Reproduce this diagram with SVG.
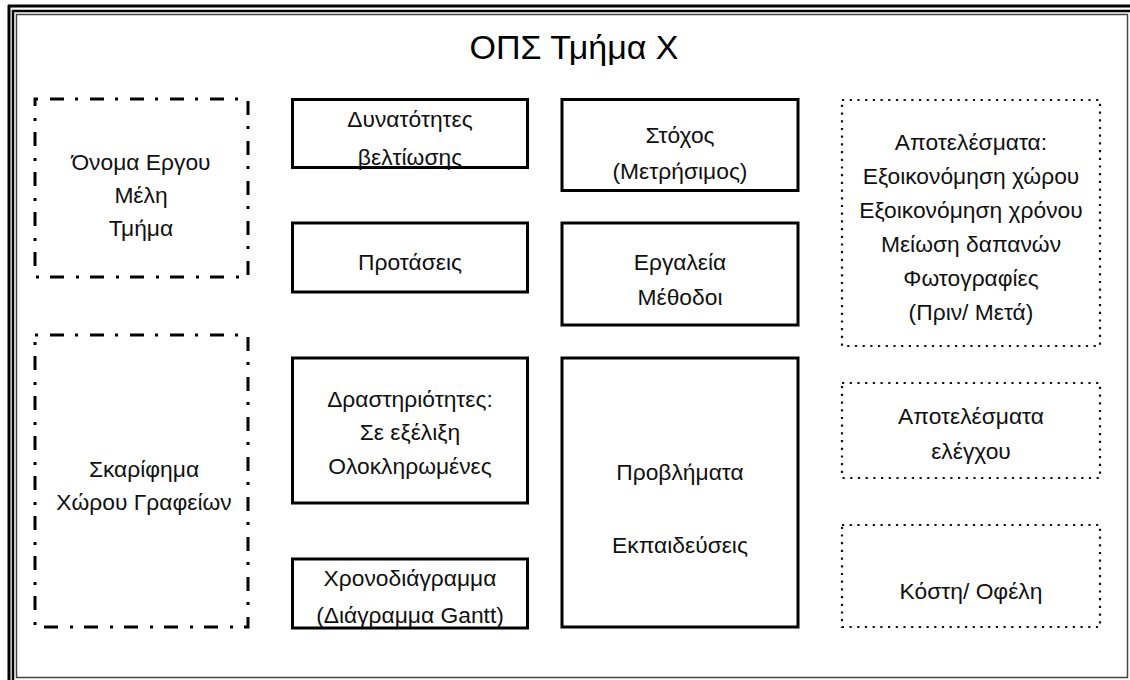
<svg xmlns="http://www.w3.org/2000/svg" width="1130" height="680" viewBox="0 0 1130 680">
<style>
.t{font-family:"Liberation Sans",Arial,sans-serif;font-size:22.8px;fill:#111;text-anchor:middle}
.title{font-family:"Liberation Sans",Arial,sans-serif;font-size:34px;fill:#000;text-anchor:middle}
.solid{fill:none;stroke:#000;stroke-width:3}
.dd{fill:none;stroke:#000;stroke-width:3;stroke-dasharray:3 12 14 11}
.dot{fill:none;stroke:#111;stroke-width:2.2;stroke-dasharray:2.2 5.5}
</style>
<rect x="0" y="0" width="1130" height="680" fill="#fff"/>
<g id="frame" fill="none">
<line x1="8" y1="6" x2="1130" y2="6" stroke="#000" stroke-width="3"/>
<line x1="12" y1="11" x2="1130" y2="11" stroke="#000" stroke-width="2.5"/>
<line x1="9" y1="5" x2="9" y2="680" stroke="#000" stroke-width="3"/>
<line x1="13" y1="10" x2="13" y2="680" stroke="#000" stroke-width="2.5"/>
<rect x="16.5" y="14.5" width="1111" height="663" stroke="#444" stroke-width="1.5"/>
</g>
<text class="title" x="574" y="59">ΟΠΣ Τμήμα Χ</text>
<g id="connectors"></g>
<g id="n-project">
<rect class="dd" x="35" y="99" width="213" height="178"/>
<text class="t" x="141" y="170">Όνομα Εργου</text>
<text class="t" x="141" y="203">Μέλη</text>
<text class="t" x="141" y="236">Τμήμα</text>
</g>
<g id="n-sketch">
<rect class="dd" x="35" y="335" width="213" height="292"/>
<text class="t" x="144" y="477">Σκαρίφημα</text>
<text class="t" x="144" y="510">Χώρου Γραφείων</text>
</g>
<g id="n-improve">
<rect class="solid" x="292.5" y="99.5" width="235" height="68"/>
<text class="t" x="410" y="127">Δυνατότητες</text>
<text class="t" x="410" y="165">βελτίωσης</text>
</g>
<g id="n-proposals">
<rect class="solid" x="292.5" y="223" width="235" height="69"/>
<text class="t" x="410" y="270">Προτάσεις</text>
</g>
<g id="n-activities">
<rect class="solid" x="292.5" y="358" width="235" height="145"/>
<text class="t" x="410" y="407">Δραστηριότητες:</text>
<text class="t" x="410" y="440">Σε εξέλιξη</text>
<text class="t" x="410" y="474">Ολοκληρωμένες</text>
</g>
<g id="n-gantt">
<rect class="solid" x="292.5" y="559" width="235" height="69"/>
<text class="t" x="410" y="586">Χρονοδιάγραμμα</text>
<text class="t" x="410" y="623">(Διάγραμμα Gantt)</text>
</g>
<g id="n-goal">
<rect class="solid" x="562" y="99.5" width="236" height="91"/>
<text class="t" x="680" y="143">Στόχος</text>
<text class="t" x="680" y="179">(Μετρήσιμος)</text>
</g>
<g id="n-tools">
<rect class="solid" x="562" y="223" width="236" height="102"/>
<text class="t" x="680" y="270">Εργαλεία</text>
<text class="t" x="680" y="305">Μέθοδοι</text>
</g>
<g id="n-problems">
<rect class="solid" x="562" y="358" width="236" height="269"/>
<text class="t" x="680" y="480">Προβλήματα</text>
<text class="t" x="680" y="553">Εκπαιδεύσεις</text>
</g>
<g id="n-results">
<rect class="dot" x="842" y="100" width="258" height="246"/>
<text class="t" x="971" y="150">Αποτελέσματα:</text>
<text class="t" x="971" y="184">Εξοικονόμηση χώρου</text>
<text class="t" x="971" y="218">Εξοικονόμηση χρόνου</text>
<text class="t" x="971" y="252">Μείωση δαπανών</text>
<text class="t" x="971" y="286">Φωτογραφίες</text>
<text class="t" x="971" y="320">(Πριν/ Μετά)</text>
</g>
<g id="n-control">
<rect class="dot" x="842" y="383" width="258" height="95"/>
<text class="t" x="971" y="424">Αποτελέσματα</text>
<text class="t" x="971" y="459">ελέγχου</text>
</g>
<g id="n-costbenefit">
<rect class="dot" x="842" y="525" width="258" height="102"/>
<text class="t" x="971" y="599">Κόστη/ Οφέλη</text>
</g>
</svg>
